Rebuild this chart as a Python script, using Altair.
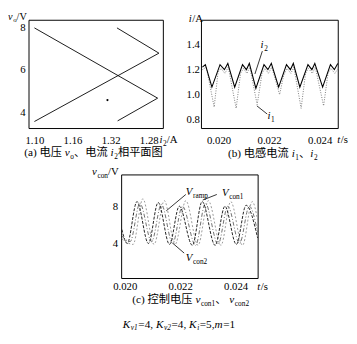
import altair as alt
import pandas as pd

FONT = "Liberation Serif, Noto Sans CJK SC"
W, H = 349, 328

# ---------------- data ----------------
# (a) phase plane: v_o versus i_2
a_seg1_i2 = [1.100, 1.294, 1.231]
a_seg1_vo = [7.98, 4.67, 3.60]
a_seg2_i2 = [1.100, 1.296, 1.230]
a_seg2_vo = [3.57, 6.79, 7.98]
a_dot_i2 = [1.215]
a_dot_vo = [4.58]
a_xticks = [1.10, 1.16, 1.22, 1.28]
a_xlabels = ["1.10", "1.16", "1.32", "1.28"]
a_yticks = [4, 6, 8]

# (b) inductor currents
b_i2_t = [0.019362, 0.019478, 0.019737, 0.020058, 0.020232, 0.020367, 0.020638,
          0.020947, 0.021101, 0.021217, 0.021476, 0.021797, 0.021952, 0.022087,
          0.022377, 0.022686, 0.022841, 0.022957, 0.023215, 0.023536, 0.023691,
          0.023807, 0.024116, 0.024425, 0.024580, 0.024715]
b_i2_v = [1.22, 1.24, 1.06, 1.24, 1.20, 1.25, 1.06, 1.24, 1.20, 1.25, 1.05, 1.24,
          1.20, 1.25, 1.06, 1.24, 1.20, 1.25, 1.06, 1.24, 1.20, 1.25, 1.06, 1.24,
          1.20, 1.25]
b_i1_t = [0.019362, 0.019517, 0.019826, 0.019981, 0.020097, 0.020251, 0.020386,
          0.020696, 0.020870, 0.020986, 0.021121, 0.021237, 0.021527, 0.021720,
          0.021836, 0.021971, 0.022106, 0.022415, 0.022570, 0.022705, 0.022860,
          0.022976, 0.023266, 0.023440, 0.023556, 0.023710, 0.023826, 0.024155,
          0.024329, 0.024444, 0.024599, 0.024734]
b_i1_v = [1.20, 1.22, 0.90, 1.18, 1.21, 1.17, 1.22, 0.89, 1.17, 1.21, 1.17, 1.22,
          0.92, 1.17, 1.21, 1.17, 1.22, 1.00, 1.15, 1.21, 1.17, 1.22, 0.89, 1.17,
          1.21, 1.17, 1.22, 0.91, 1.17, 1.21, 1.17, 1.21]
b_xticks = [0.020, 0.022, 0.024]
b_yticks = [0.8, 1.0, 1.2, 1.4]

# (c) control voltages
c_con2_t = [0.019894, 0.020088, 0.020441, 0.020853, 0.021205, 0.021614, 0.021967,
            0.022439, 0.022791, 0.023260, 0.023612, 0.024025, 0.024377, 0.024793]
c_con2_v = [5.5, 4.0, 8.5, 4.0, 8.4, 3.9, 8.0, 3.8, 8.5, 3.8, 8.0, 3.9, 8.1, 4.6]
c_con1_t = [0.019894, 0.020194, 0.020546, 0.020969, 0.021322, 0.021727, 0.022079,
            0.022555, 0.022907, 0.023366, 0.023718, 0.024141, 0.024493, 0.024793]
c_con1_v = [4.8, 4.2, 8.3, 4.2, 8.2, 4.0, 8.0, 3.8, 8.3, 3.9, 8.0, 4.0, 8.0, 5.2]
c_ramp_t = [0.019894, 0.020300, 0.020652, 0.021057, 0.021427, 0.021815, 0.022203,
            0.022643, 0.023013, 0.023471, 0.023824, 0.024247, 0.024599, 0.024793]
c_ramp_v = [4.5, 3.9, 8.8, 3.9, 8.6, 3.9, 8.6, 3.8, 8.6, 3.8, 8.5, 3.8, 8.5, 6.5]
c_xticks = [0.020, 0.022, 0.024]
c_yticks = [4, 8]

# ---------------- layout (plot-area pixel geometry) ----------------
A_DX, A_DY = [1.0915, 1.303], [3.24, 8.34]
A_RX, A_RY = [21.5, 159.0], [119.5, 8.7]
B_DX, B_DY = [0.019324, 0.024734], [0.728, 1.596]
B_RX, B_RY = [198.0, 338.0], [119.5, 8.7]
C_DX, C_DY = [0.019887, 0.024811], [0.24, 11.36]
C_RX, C_RY = [116.3, 256.0], [273.0, 167.0]


def scale(dom, rng):
    return alt.Scale(domain=dom, range=rng, zero=False, nice=False)


def axis(orient, offset, values, pad, fmt=None, label_expr=None):
    kw = dict(orient=orient, offset=offset, values=values, domain=False, ticks=False,
              grid=False, labelPadding=pad, labelFont=FONT,
              labelFontSize=11, labelColor="black", labelFlush=False,
              labelOverlap=False, title=None)
    if fmt:
        kw["format"] = fmt
    if label_expr:
        kw["labelExpr"] = label_expr
    return alt.Axis(**kw)


def frame(dx, dy, rx, ry, ax, ay):
    df = pd.DataFrame({"x0": [dx[0]], "x1": [dx[1]], "y0": [dy[0]], "y1": [dy[1]]})
    return alt.Chart(df).mark_rect(fillOpacity=0, stroke="black", strokeWidth=1).encode(
        x=alt.X("x0:Q", scale=scale(dx, rx), axis=ax), x2="x1:Q",
        y=alt.Y("y0:Q", scale=scale(dy, ry), axis=ay), y2="y1:Q")


def series(xs, ys, dx, dy, rx, ry, detail=None, order=None, **mk):
    df = pd.DataFrame({"x": xs, "y": ys})
    df["k"] = order if order is not None else list(range(len(xs)))
    df["g"] = detail if detail is not None else ["s"] * len(xs)
    return alt.Chart(df).mark_line(**mk).encode(
        x=alt.X("x:Q", scale=scale(dx, rx), axis=None),
        y=alt.Y("y:Q", scale=scale(dy, ry), axis=None),
        detail="g:N", order="k:Q")


layers = []

# ---- panel (a)
expr = "".join(f"abs(datum.value - {v}) < 1e-6 ? '{l}' : " for v, l in zip(a_xticks, a_xlabels)) + "datum.label"
layers.append(frame(A_DX, A_DY, A_RX, A_RY,
                    axis("bottom", A_RY[0] - H, a_xticks, 6, label_expr=expr),
                    axis("left", -A_RX[0], a_yticks, 4)))
layers.append(series(a_seg1_i2 + a_seg2_i2, a_seg1_vo + a_seg2_vo, A_DX, A_DY, A_RX, A_RY,
                     detail=["s1"] * len(a_seg1_i2) + ["s2"] * len(a_seg2_i2),
                     order=list(range(len(a_seg1_i2))) + list(range(len(a_seg2_i2))),
                     color="black", strokeWidth=0.9))
layers.append(alt.Chart(pd.DataFrame({"x": a_dot_i2, "y": a_dot_vo})).mark_circle(
    color="black", size=5, opacity=1).encode(
    x=alt.X("x:Q", scale=scale(A_DX, A_RX), axis=None),
    y=alt.Y("y:Q", scale=scale(A_DY, A_RY), axis=None)))

# ---- panel (b)
layers.append(frame(B_DX, B_DY, B_RX, B_RY,
                    axis("bottom", B_RY[0] - H, b_xticks, 6, fmt=".3f"),
                    axis("left", -B_RX[0], b_yticks, 2, fmt=".1f")))
layers.append(series(b_i1_t, b_i1_v, B_DX, B_DY, B_RX, B_RY,
                     color="#7a7a7a", strokeWidth=1, strokeDash=[1, 1.5]))
layers.append(series(b_i2_t, b_i2_v, B_DX, B_DY, B_RX, B_RY, color="black", strokeWidth=1.1))

# ---- panel (c)
layers.append(frame(C_DX, C_DY, C_RX, C_RY,
                    axis("bottom", C_RY[0] - H, c_xticks, 2, fmt=".3f"),
                    axis("left", -C_RX[0], c_yticks, 4)))
layers.append(series(c_ramp_t, c_ramp_v, C_DX, C_DY, C_RX, C_RY, color="#9a9a9a",
                     strokeWidth=1, strokeDash=[2, 2], interpolate="monotone"))
layers.append(series(c_con1_t, c_con1_v, C_DX, C_DY, C_RX, C_RY, color="#707070",
                     strokeWidth=1, strokeDash=[4, 2, 1, 2], interpolate="monotone"))
layers.append(series(c_con2_t, c_con2_v, C_DX, C_DY, C_RX, C_RY, color="#222222",
                     strokeWidth=1, strokeDash=[3, 1.5], interpolate="monotone"))

# ---------------- annotation texts (rich text with subscripts) ----------------
CW = {"0": .5, "1": .5, "2": .5, "3": .5, "4": .5, "5": .5, "6": .5, "7": .5, "8": .5, "9": .5,
      ".": .25, ",": .25, "(": .333, ")": .333, " ": .25, "/": .278, "=": .564,
      "a": .444, "b": .5, "c": .444, "i": .278, "m": .722, "n": .5, "o": .5, "p": .5,
      "r": .333, "s": .389, "t": .278, "v": .444, "A": .722, "K": .667, "V": .611}


def tw(s, size):
    return sum((1.0 if ord(ch) > 0x2E80 else CW.get(ch, .5)) for ch in s) * size


def rich(segs, x, y, size=11, center=False, drop=3, sub=7.5):
    rows, widths = [], []
    for text, kind in segs:
        sz = sub if kind in ("s", "si") else size
        widths.append(tw(text, sz) + (0.6 if kind in ("i", "si") else 0))
    cx = x - sum(widths) / 2 if center else x
    for (text, kind), w in zip(segs, widths):
        is_sub = kind in ("s", "si")
        rows.append({"px": cx - 8, "py": y - 8 + (drop if is_sub else 0), "text": text,
                     "size": sub if is_sub else size, "it": kind in ("i", "si")})
        cx += w
    return rows


ann = []
ann += rich([("v", "i"), ("o", "s"), ("/V", "r")], 8, 16.2, size=10.5, drop=2.5, sub=7)
ann += rich([("i", "i"), ("2", "s"), ("/A", "r")], 163, 142.5)
ann += rich([("i", "i"), ("/A", "r")], 193, 18.5)
ann += rich([("t", "i"), ("/s", "r")], 345, 142.5)
ann += rich([("v", "i"), ("con", "s"), ("/V", "r")], 94, 175)
ann += rich([("t", "i"), ("/s", "r")], 263, 292.5)
ann += rich([("i", "i"), ("2", "s")], 266.5, 45)
ann += rich([("i", "i"), ("1", "s")], 273.5, 117.5)
ann += rich([("V", "i"), ("ramp", "s")], 190, 196)
ann += rich([("V", "i"), ("con1", "s")], 227, 197)
ann += rich([("V", "i"), ("con2", "s")], 190, 263)
ann += rich([("(a) 电压 ", "r"), ("v", "i"), ("o", "s"), ("、电流 ", "r"), ("i", "i"), ("2", "s"),
             (" 相平面图", "r")], 97, 156, size=11.5, center=True)
ann += rich([("(b) 电感电流 ", "r"), ("i", "i"), ("1", "s"), ("、", "r"), ("i", "i"), ("2", "s")],
            279, 157, size=11.5, center=True)
ann += rich([("(c) 控制电压 ", "r"), ("v", "i"), ("con1", "s"), ("、 ", "r"), ("v", "i"), ("con2", "s")],
            195, 306, size=11.5, center=True)
ann += rich([("K", "i"), ("v1", "si"), ("=4, ", "r"), ("K", "i"), ("v2", "si"), ("=4, ", "r"),
             ("K", "i"), ("i", "si"), ("=5,", "r"), ("m", "i"), ("=1", "r")], 183, 331.5,
            size=11.5, center=True, drop=2.5)
ann_df = pd.DataFrame(ann)

for (it, sz), grp in ann_df.groupby(["it", "size"]):
    layers.append(alt.Chart(grp.reset_index(drop=True)).mark_text(
        align="left", baseline="alphabetic", font=FONT, fontSize=float(sz),
        fontStyle="italic" if it else "normal", color="black").encode(
        x=alt.X("px:Q", scale=None, axis=None), y=alt.Y("py:Q", scale=None, axis=None),
        text="text:N"))

leaders = pd.DataFrame({
    "x1": [268.3, 262.7, 190.0, 221.7, 188.3], "y1": [48.3, 104.3, 195.0, 195.0, 255.0],
    "x2": [260.7, 273.3, 170.0, 207.3, 176.7], "y2": [71.7, 112.7, 211.7, 200.7, 245.0]})
leaders = leaders - 8
layers.append(alt.Chart(leaders).mark_rule(color="black", strokeWidth=0.8).encode(
    x=alt.X("x1:Q", scale=None, axis=None), y=alt.Y("y1:Q", scale=None, axis=None),
    x2="x2:Q", y2="y2:Q"))

chart = alt.layer(*layers).resolve_scale(x="independent", y="independent").resolve_axis(
    x="independent", y="independent"
).properties(
    width=W, height=H, autosize=alt.AutoSizeParams(type="none"), padding=0,
    background="white"
).configure_view(strokeWidth=0)

chart.save("out.html", embed_options={"renderer": "svg", "actions": False})
